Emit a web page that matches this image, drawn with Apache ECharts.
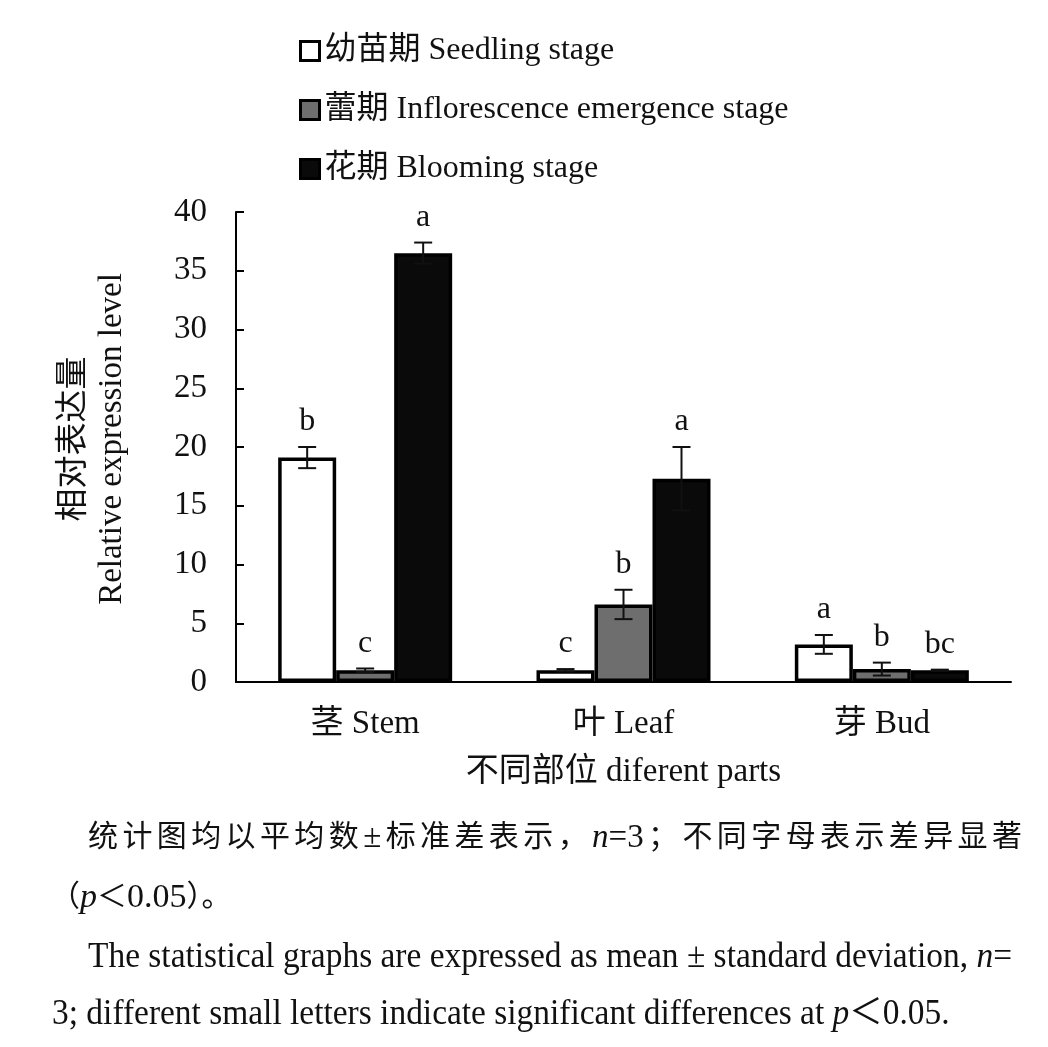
<!DOCTYPE html>
<html>
<head>
<meta charset="utf-8">
<script src="https://cdn.jsdelivr.net/npm/echarts@6/dist/echarts.min.js"></script>
<style>html,body{margin:0;padding:0;background:#fff;}#main{width:1048px;height:1047px;}</style>
</head>
<body>
<div id="main"></div>
<script>
const categories = ['茎 Stem', '叶 Leaf', '芽 Bud'];
const seriesNames = ['幼苗期 Seedling stage', '蕾期 Inflorescence emergence stage', '花期 Blooming stage'];
const seedling = [19.1, 1.0, 3.2];
const seedlingErr = [0.9, 0.1, 0.8];
const seedlingLetters = ['b', 'c', 'a'];
const inflorescence = [1.0, 6.6, 1.1];
const inflorescenceErr = [0.15, 1.25, 0.55];
const inflorescenceLetters = ['c', 'b', 'b'];
const blooming = [36.5, 17.3, 1.0];
const bloomingErr = [0.9, 2.7, 0.05];
const bloomingLetters = ['a', 'a', 'bc'];
const yTicks = [0, 5, 10, 15, 20, 25, 30, 35, 40];
const captionZh1 = [['统'],['计'],['图'],['均'],['以'],['平'],['均'],['数'],['±', 'l'],['标'],['准'],['差'],['表'],['示'],['，'],['n', 'i'],['=3', 'lg'],['；'],['不'],['同'],['字'],['母'],['表'],['示'],['差'],['异'],['显'],['著']];
const captionZh2 = '（{i|p}＜{l|0.05}）。';
const captionEn1 = 'The statistical graphs are expressed as mean ± standard deviation, {i|n}=';
const captionEn2 = '3; different small letters indicate significant differences at {i|p}＜0.05.';

const FONT = '"Liberation Serif", "Noto Sans CJK SC", serif';
const BAR_W = 58;
const colors = ['#ffffff', '#6e6e6e', '#0a0a0a'];
const allVals = [seedling, inflorescence, blooming];
const allErrs = [seedlingErr, inflorescenceErr, bloomingErr];
const allLetters = [seedlingLetters, inflorescenceLetters, bloomingLetters];

const mctx = document.createElement('canvas').getContext('2d');
function measure(text, font) { mctx.font = font; return mctx.measureText(text).width; }

const chart = echarts.init(document.getElementById('main'), null, {renderer: 'canvas'});

const barSeries = seriesNames.map((name, i) => ({
  name: name,
  type: 'bar',
  data: allVals[i],
  barWidth: BAR_W,
  barGap: '0%',
  itemStyle: {color: colors[i], borderColor: '#000', borderWidth: 3.5},
  emphasis: {disabled: true},
  z: 2
}));

const errSeries = seriesNames.map((name, i) => ({
  type: 'custom',
  name: 'err' + i,
  data: categories.map((c, j) => [j, allVals[i][j], allErrs[i][j]]),
  z: 5,
  silent: true,
  renderItem: function (params, api) {
    const cat = api.value(0), v = api.value(1), e = api.value(2);
    const x = api.coord([cat, v])[0] + (i - 1) * BAR_W;
    const top = api.coord([cat, v + e])[1];
    const bot = api.coord([cat, Math.max(0, v - e)])[1];
    const cap = 9;
    const ls = {stroke: '#111', lineWidth: 2};
    return {
      type: 'group',
      children: [
        {type: 'line', shape: {x1: x, y1: top, x2: x, y2: bot}, style: ls},
        {type: 'line', shape: {x1: x - cap, y1: top, x2: x + cap, y2: top}, style: ls},
        {type: 'line', shape: {x1: x - cap, y1: bot, x2: x + cap, y2: bot}, style: ls},
        {type: 'text', style: {text: allLetters[i][params.dataIndex], x: x, y: top - 9,
          align: 'center', verticalAlign: 'bottom', font: '32px ' + FONT, fill: '#111'}}
      ]
    };
  }
}));

// justified Chinese caption line
function justifiedLine(tokens, x0, x1, yMid, size, latinSize) {
  const fontOf = t => {
    const f = t[1] || '';
    if (f.indexOf('i') >= 0) return 'italic ' + latinSize + 'px ' + FONT;
    if (f.indexOf('l') >= 0) return latinSize + 'px ' + FONT;
    return size + 'px ' + FONT;
  };
  const glued = t => (t[1] || '').indexOf('g') >= 0;
  const widths = tokens.map(t => measure(t[0], fontOf(t)));
  const total = widths.reduce((a, b) => a + b, 0);
  const gaps = tokens.filter((t, k) => k > 0 && !glued(t)).length;
  const sp = (x1 - x0 - total) / gaps;
  const els = [];
  let x = x0;
  tokens.forEach((t, k) => {
    if (k > 0 && !glued(t)) x += sp;
    els.push({type: 'text', silent: true, style: {text: t[0], x: x, y: yMid, verticalAlign: 'middle',
      font: fontOf(t), fill: '#111'}});
    x += widths[k];
  });
  return els;
}

const EN_SIZE = 35;
const enPlain = captionEn1.replace('{i|n}', 'n');
const enScale = 924 / measure(enPlain, EN_SIZE + 'px ' + FONT);
function enLine(text, x, yMid) {
  return {type: 'text', silent: true, x: x, y: yMid, scaleX: enScale, style: {
    text: text, x: 0, y: 0, verticalAlign: 'middle', font: EN_SIZE + 'px ' + FONT, fill: '#111',
    rich: {i: {fontStyle: 'italic', fontFamily: FONT, fontSize: EN_SIZE}}}};
}

const option = {
  animation: false,
  backgroundColor: '#fff',
  grid: {left: 236, right: 37, top: 212, bottom: 365},
  legend: {
    orient: 'vertical',
    left: 299,
    top: 34,
    padding: 0,
    itemWidth: 19,
    itemHeight: 19,
    itemGap: 25,
    selectedMode: false,
    textStyle: {fontFamily: FONT, fontSize: 32, color: '#111', lineHeight: 34},
    data: seriesNames.map((n, i) => ({name: n, icon: 'rect',
      itemStyle: {color: colors[i], borderColor: '#000', borderWidth: 3}}))
  },
  xAxis: {
    type: 'category',
    data: categories,
    axisLine: {lineStyle: {color: '#000', width: 2}},
    axisTick: {inside: true, length: 9, lineStyle: {color: '#000', width: 2}},
    axisLabel: {fontFamily: FONT, fontSize: 33, color: '#111', margin: 26},
    name: '不同部位 diferent parts',
    nameLocation: 'middle',
    nameGap: 74,
    nameTextStyle: {fontFamily: FONT, fontSize: 33, color: '#111'}
  },
  yAxis: {
    type: 'value',
    min: yTicks[0],
    max: yTicks[yTicks.length - 1],
    interval: 5,
    axisLine: {show: true, lineStyle: {color: '#000', width: 2}},
    axisTick: {show: true, inside: true, length: 8, lineStyle: {color: '#000', width: 2}},
    axisLabel: {fontFamily: FONT, fontSize: 33, color: '#111', margin: 29},
    splitLine: {show: false},
    name: '相对表达量\nRelative expression level',
    nameLocation: 'middle',
    nameRotate: 90,
    nameGap: 105,
    nameTextStyle: {fontFamily: FONT, fontSize: 33, color: '#111', lineHeight: 38, padding: [0, 0, 0, 16]}
  },
  graphic: justifiedLine(captionZh1, 88, 1022, 838, 30, 33).concat([
    {type: 'text', silent: true, style: {
      text: captionZh2, x: 50, y: 898, verticalAlign: 'middle',
      font: '30px ' + FONT, fill: '#111',
      rich: {i: {fontStyle: 'italic', fontFamily: FONT, fontSize: 34},
             l: {fontFamily: FONT, fontSize: 34}}}},
    enLine(captionEn1, 88, 958),
    enLine(captionEn2, 52, 1015)
  ]),
  series: barSeries.concat(errSeries)
};
chart.setOption(option);
</script>
</body>
</html>
